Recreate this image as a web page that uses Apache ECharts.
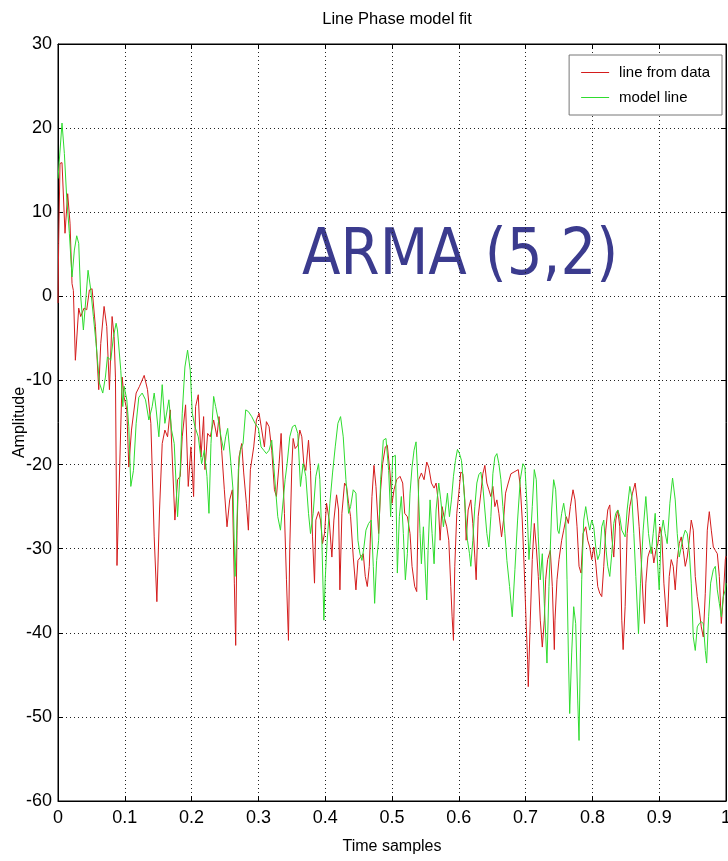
<!DOCTYPE html>
<html>
<head>
<meta charset="utf-8">
<title>Line Phase model fit</title>
<script src="https://cdn.jsdelivr.net/npm/echarts@6/dist/echarts.min.js"></script>
<style>
  html, body { margin: 0; padding: 0; background: #fff; }
  #chart { width: 728px; height: 861px; }
</style>
</head>
<body>
<div id="chart"></div>
<script>
// Axis ranges and ticks
const xTicks = { min: 0, max: 1, interval: 0.1 };
const yTicks = { min: -60, max: 30, interval: 10 };

const chartTitle = 'Line Phase model fit';
const xName = 'Time samples';
const yName = 'Amplitude';
const seriesNames = ['line from data', 'model line'];
const annotation = 'ARMA (5,2)';

// Measured line phase: [time, amplitude]
const dataLine = [
  [0,-0.8],[0.001,6.3],[0.003,15.8],[0.006,15.9],[0.0105,7.5],[0.0145,12.2],[0.018,8.7],[0.021,1.5],[0.023,0.7],[0.026,-7.6],
  [0.031,-1.4],[0.034,-2.4],[0.039,-1.4],[0.043,-1.6],[0.047,0.75],[0.051,0.9],[0.056,-3.6],[0.061,-11.1],[0.064,-5.6],[0.069,-1.2],
  [0.073,-3.6],[0.077,-11.1],[0.081,-2.4],[0.084,-4.8],[0.086,-9.6],[0.0883,-32],[0.096,-9.6],[0.099,-12],[0.103,-13.5],[0.106,-20.3],
  [0.110,-15.9],[0.117,-11.5],[0.122,-10.7],[0.129,-9.4],[0.134,-11.1],[0.139,-15.1],[0.144,-28.6],[0.148,-36.3],[0.152,-25.4],[0.156,-17.5],
  [0.160,-15.9],[0.164,-16.7],[0.168,-13.5],[0.171,-19.1],[0.175,-26.6],[0.179,-21.8],[0.183,-21.4],[0.186,-16.7],[0.191,-12.9],[0.195,-22.6],
  [0.199,-17.9],[0.203,-23.8],[0.206,-13.1],[0.210,-11.7],[0.214,-19.1],[0.218,-14.3],[0.220,-20.6],[0.224,-16.3],[0.228,-16.7],[0.233,-14.7],
  [0.238,-16.7],[0.241,-14.3],[0.245,-18.3],[0.249,-23],[0.253,-27.4],[0.257,-24.2],[0.261,-23],[0.264,-34.1],[0.266,-41.5],[0.268,-27.8],
  [0.271,-19.1],[0.275,-17.5],[0.278,-21],[0.282,-24.6],[0.285,-27.8],[0.288,-20.6],[0.293,-17.9],[0.297,-14.7],[0.301,-13.9],[0.305,-15.9],
  [0.309,-17.9],[0.312,-14.9],[0.316,-15.5],[0.320,-18.3],[0.324,-23],[0.327,-23.8],[0.331,-19.9],[0.334,-16.3],
  [0.339,-25.8],[0.342,-33.7],[0.345,-40.9],[0.347,-29.8],[0.350,-20.3],[0.352,-16.9],[0.355,-18.1],[0.359,-17.7],[0.362,-15.9],[0.365,-16.7],
  [0.368,-19.9],[0.371,-20.7],[0.375,-17.1],[0.378,-20.7],[0.381,-28.6],[0.384,-34.1],[0.386,-26.6],[0.390,-25.6],[0.393,-26.6],[0.396,-29.4],
  [0.399,-28.2],[0.402,-24.6],[0.406,-26.6],[0.410,-31],[0.413,-26.6],[0.417,-23.6],[0.420,-25.4],[0.422,-34.9],[0.425,-25.8],[0.429,-22.2],
  [0.432,-22.6],[0.435,-24.6],[0.438,-26.2],[0.442,-31],[0.446,-34.9],[0.449,-31.4],[0.453,-31],[0.457,-30.6],[0.460,-33.3],[0.463,-34.5],
  [0.466,-32.1],[0.470,-23.8],[0.473,-20.1],[0.476,-22.6],[0.480,-28.2],[0.483,-23],[0.486,-19.9],[0.490,-17.9],[0.493,-17.7],[0.497,-21],
  [0.500,-24.6],[0.503,-23],[0.507,-21.8],
  [0.512,-21.4],[0.516,-22.2],[0.519,-25.8],[0.523,-26.2],[0.527,-28.2],[0.530,-32.1],[0.534,-34.5],[0.537,-35.1],[0.540,-21.8],[0.544,-21],
  [0.548,-21.8],[0.552,-19.7],[0.555,-20.3],[0.559,-22.2],[0.563,-22.8],[0.566,-22.2],[0.569,-24.2],[0.572,-29],[0.575,-25],[0.578,-26.2],
  [0.582,-27.4],[0.585,-29],[0.588,-34.5],[0.590,-38.1],[0.592,-40.9],[0.594,-32.1],[0.597,-25.8],[0.600,-23.4],[0.603,-20.9],[0.606,-21.1],
  [0.609,-24.2],[0.611,-29],[0.614,-25.4],[0.618,-24.2],[0.621,-27],[0.624,-31],[0.626,-33.7],[0.629,-26.2],[0.633,-23.4],[0.636,-21.1],
  [0.639,-20.1],[0.642,-22.2],[0.645,-23],[0.648,-23.8],[0.651,-22.6],[0.654,-25],[0.657,-24.2],[0.660,-25.8],[0.664,-28.6],[0.667,-26.6],
  [0.670,-23.4],[0.674,-22.2],[0.678,-21.1],
  [0.689,-20.6],[0.692,-22.6],[0.695,-26.6],[0.698,-32.5],[0.701,-39.3],[0.703,-43.2],[0.704,-46.4],[0.707,-38.5],[0.710,-31.3],[0.713,-27],
  [0.716,-29.8],[0.719,-33.3],[0.722,-38.5],[0.725,-41.7],[0.728,-38.5],[0.730,-33.7],[0.733,-31.3],[0.737,-30.2],[0.740,-34.5],[0.743,-42],
  [0.744,-38.5],[0.747,-33.7],[0.750,-31.3],[0.754,-29],[0.757,-27.8],[0.761,-26.2],[0.764,-27],[0.767,-25],[0.771,-23],[0.774,-24.2],
  [0.777,-27.4],[0.780,-32.1],[0.783,-32.9],[0.786,-28.2],[0.790,-27.4],[0.793,-29],[0.796,-29.8],[0.799,-31.3],[0.802,-29.8],[0.805,-31.7],
  [0.808,-34.5],[0.811,-35.3],[0.814,-35.7],[0.817,-32.1],[0.820,-27.8],[0.823,-25.4],[0.826,-24.8],[0.829,-28.6],[0.832,-31],[0.835,-26.6],
  [0.838,-25.4],[0.841,-27.4],[0.844,-38.5],[0.846,-42],[0.849,-36.9],
  [0.852,-28.2],[0.856,-25],[0.860,-23.4],[0.864,-22.2],[0.867,-24.2],[0.870,-27.4],[0.873,-31.3],[0.876,-36.1],[0.878,-38.9],[0.880,-34.1],
  [0.883,-31],[0.886,-30.2],[0.889,-29.8],[0.892,-31.7],[0.895,-30.2],[0.898,-29.4],[0.901,-27.4],[0.904,-28.6],[0.907,-34.1],[0.910,-37.3],
  [0.912,-39.3],[0.915,-33.3],[0.918,-31.3],[0.921,-32.1],[0.924,-34.9],[0.927,-31.3],[0.930,-29.4],[0.933,-28.6],[0.936,-30.2],[0.939,-32.1],
  [0.942,-31],[0.945,-29],[0.948,-26.6],[0.951,-27.8],[0.954,-33.3],[0.957,-35.7],[0.960,-37.3],[0.963,-39.3],[0.966,-40.5],[0.969,-35.3],
  [0.972,-27.8],[0.975,-25.6],[0.978,-27.8],[0.981,-29.8],[0.984,-30.2],[0.987,-30.6],[0.990,-33.3],[0.993,-38.9],[0.996,-35.7],[0.999,-31.3],
  [1.0,-30.9]
];

// ARMA(5,2) model output: [time, amplitude]
const modelLine = [
  [0,14],[0.006,20.6],[0.0095,17],[0.013,11.8],[0.017,7.5],[0.021,2.3],[0.0245,5.5],[0.028,7.2],[0.031,6.3],[0.034,0],
  [0.038,-4],[0.042,0],[0.045,3.1],[0.049,0.8],[0.053,-2.4],[0.057,-5.6],[0.062,-10.3],[0.067,-11.5],[0.071,-9.6],[0.074,-7.2],
  [0.079,-7.6],[0.083,-4.8],[0.087,-3.2],[0.089,-4],[0.094,-8.8],[0.097,-13.1],[0.099,-10.7],[0.103,-12.3],[0.106,-15.5],[0.109,-22.6],
  [0.113,-20.7],[0.117,-15.1],[0.121,-12],[0.126,-11.5],[0.131,-12.3],[0.136,-14.7],[0.141,-13.1],[0.144,-11.5],[0.147,-13.5],[0.151,-16.7],
  [0.156,-10.5],
  [0.160,-15.1],[0.166,-12.3],[0.170,-15.9],[0.174,-17.5],[0.179,-26.2],[0.183,-20.6],[0.186,-13.9],[0.190,-8.4],[0.194,-6.4],[0.198,-8.8],
  [0.201,-13.9],[0.205,-15.5],[0.210,-16.7],[0.215,-19.9],[0.219,-18.3],[0.223,-21.4],[0.226,-25.8],[0.229,-17.5],[0.233,-11.9],[0.236,-13.1],
  [0.240,-14.7],[0.244,-16.7],[0.248,-18.3],[0.251,-16.7],[0.254,-15.7],[0.258,-19.1],[0.262,-23],[0.265,-33.3],[0.267,-29.4],[0.270,-20.6],
  [0.273,-18.3],[0.277,-17.5],[0.281,-13.5],[0.285,-13.7],[0.290,-14.3],[0.295,-15.1],[0.300,-15.7],[0.304,-17.9],[0.308,-18.3],[0.312,-18.7],
  [0.316,-18.3],[0.320,-17.1],[0.325,-22.2],[0.329,-26.2],[0.333,-27.8],
  [0.340,-21.8],[0.343,-19.9],[0.347,-16.7],[0.351,-15.5],[0.355,-15.3],[0.359,-16.3],[0.363,-22.6],[0.367,-19.9],[0.371,-21.4],[0.375,-25.8],
  [0.378,-28.2],[0.382,-25.8],[0.386,-21.4],[0.390,-19.9],[0.392,-21.8],[0.395,-29],[0.398,-38.5],[0.400,-33.7],[0.403,-29],[0.407,-24.6],
  [0.411,-21],[0.415,-17.9],[0.419,-15.1],[0.423,-14.3],[0.427,-16.7],[0.431,-21.8],[0.435,-25.8],[0.438,-25],[0.442,-23],[0.446,-23.4],
  [0.449,-29],[0.452,-30.6],[0.455,-31.4],[0.458,-29.8],[0.461,-27.8],[0.465,-27],[0.469,-26.6],[0.472,-32.1],[0.474,-36.5],[0.477,-31.4],
  [0.480,-29],[0.483,-21.8],[0.487,-17.1],[0.491,-16.9],[0.495,-20.7],[0.498,-26.2],[0.501,-19.1],[0.505,-18.9],
  [0.508,-32.9],[0.511,-26.2],[0.514,-23.8],[0.517,-28.2],[0.520,-33.7],[0.523,-30.6],[0.527,-23.4],[0.530,-20.3],[0.533,-18.3],[0.536,-17.3],
  [0.539,-22.2],[0.542,-28.2],[0.544,-31.8],[0.547,-27.4],[0.550,-32.9],[0.552,-36.1],[0.554,-30.2],[0.557,-24.2],[0.560,-28.2],[0.563,-31.8],
  [0.566,-25.4],[0.570,-22.2],[0.573,-24.2],[0.577,-27.4],[0.580,-25.4],[0.583,-23.4],[0.586,-26.2],[0.589,-24.2],[0.592,-21.4],[0.595,-19.5],
  [0.598,-18.2],[0.601,-18.7],[0.604,-19.5],[0.607,-22.2],[0.610,-25.8],[0.613,-29],[0.616,-30.6],[0.618,-32.1],[0.621,-29],[0.624,-25],
  [0.627,-22.2],[0.630,-21.2],[0.633,-20.9],[0.636,-22.6],[0.639,-25.4],[0.642,-28.2],[0.645,-29.8],[0.648,-26.2],[0.651,-21.1],[0.654,-19.1],
  [0.657,-18.7],[0.660,-19.9],[0.663,-21.8],[0.666,-25],[0.669,-28.2],[0.672,-31.4],[0.676,-34.5],[0.680,-38.1],
  [0.684,-32.5],[0.688,-26.6],[0.692,-21.8],[0.696,-19.9],[0.699,-20.3],[0.702,-24.6],[0.705,-31.3],[0.708,-27.8],[0.710,-25],[0.713,-20.6],
  [0.716,-21.8],[0.719,-28.6],[0.722,-33.7],[0.725,-30.6],[0.728,-36.5],[0.730,-40.1],[0.732,-43.6],[0.735,-34.5],[0.739,-25.4],[0.742,-21.8],
  [0.745,-23],[0.748,-27.8],[0.750,-28.2],[0.754,-25.8],[0.757,-24.6],[0.760,-26.2],[0.762,-33.7],[0.764,-42.4],[0.766,-49.6],[0.769,-42.4],
  [0.772,-36.9],[0.775,-38.9],[0.778,-48],[0.780,-52.8],[0.782,-42.4],[0.784,-33.7],[0.787,-26.6],[0.790,-25],[0.793,-26.6],[0.796,-27.8],
  [0.799,-26.6],[0.802,-27.4],[0.805,-29.8],[0.808,-31.3],[0.811,-30.6],[0.814,-27.4],[0.817,-26.6],[0.820,-29.8],[0.823,-32.1],[0.826,-33.3],
  [0.829,-30.6],[0.832,-27],[0.835,-25.8],[0.838,-25.4],[0.841,-26.2],[0.844,-27.8],[0.849,-28.6],
  [0.852,-25.4],[0.856,-22.6],[0.859,-23.8],[0.862,-28.2],[0.865,-33.3],[0.869,-40.1],[0.872,-34.1],[0.876,-27.8],[0.880,-23.8],[0.884,-28.2],
  [0.888,-30.6],[0.891,-28.2],[0.894,-25.8],[0.897,-31],[0.900,-34.9],[0.903,-28.2],[0.906,-26.6],[0.909,-28.2],[0.912,-29.4],[0.916,-24.6],
  [0.920,-21.6],[0.924,-24.2],[0.927,-28.2],[0.930,-31],[0.933,-29.8],[0.936,-28.6],[0.939,-27.8],[0.942,-28.2],[0.945,-30.2],[0.948,-34.1],
  [0.951,-40.5],[0.954,-42.1],[0.957,-39.3],[0.960,-38.9],[0.963,-38.7],[0.966,-38.9],[0.969,-42.1],[0.971,-43.6],[0.974,-38.1],[0.977,-34.1],
  [0.981,-32.5],[0.984,-32.1],[0.987,-34.9],[0.990,-36.5],[0.993,-38.1],[0.996,-35.7],[0.999,-34.9],[1.0,-34.1]
];

const FONT = "'Liberation Sans', Arial, sans-serif";
const dotted = { color: '#222', width: 1, type: [1, 3] };

const chart = echarts.init(document.getElementById('chart'), null, { renderer: 'canvas' });

function axisCommon(extra) {
  return Object.assign({
    type: 'value',
    axisLine: { show: true, onZero: false, lineStyle: { color: '#000', width: 1 } },
    axisTick: { show: true, inside: true, length: 5, lineStyle: { color: '#000' } },
    minorTick: { show: false }
  }, extra);
}

chart.setOption({
  animation: false,
  backgroundColor: '#fff',
  textStyle: { fontFamily: FONT },
  title: {
    text: chartTitle,
    left: 392, top: 6, textAlign: 'center',
    textStyle: { fontFamily: FONT, fontSize: 16.5, fontWeight: 'normal', color: '#000' }
  },
  grid: {
    left: 58, right: 2, top: 44, bottom: 60,
    outerBoundsMode: 'none', containLabel: false,
    show: true, borderColor: '#000', borderWidth: 1, backgroundColor: '#fff'
  },
  legend: {
    orient: 'vertical',
    right: 6, top: 55,
    padding: [9, 12, 9, 12],
    itemGap: 8,
    itemWidth: 28, itemHeight: 1,
    icon: 'rect',
    backgroundColor: '#fff',
    borderColor: '#777', borderWidth: 1,
    textStyle: { fontFamily: FONT, fontSize: 15, color: '#000', lineHeight: 17, padding: [0, 0, 0, 5] },
    data: seriesNames
  },
  xAxis: [
    axisCommon({
      min: xTicks.min, max: xTicks.max, interval: xTicks.interval,
      position: 'bottom',
      name: xName, nameLocation: 'middle', nameGap: 38, nameMoveOverlap: false,
      nameTextStyle: { fontFamily: FONT, fontSize: 16, color: '#000' },
      axisLabel: { show: true, margin: 8, color: '#000', fontFamily: FONT, fontSize: 18, showMaxLabel: true, showMinLabel: true },
      splitLine: { show: true, lineStyle: dotted }
    }),
    axisCommon({
      min: xTicks.min, max: xTicks.max, interval: xTicks.interval,
      position: 'top',
      axisLabel: { show: false },
      splitLine: { show: false }
    })
  ],
  yAxis: [
    axisCommon({
      min: yTicks.min, max: yTicks.max, interval: yTicks.interval,
      position: 'left',
      name: yName, nameLocation: 'middle', nameGap: 30, nameRotate: 90, nameMoveOverlap: false,
      nameTextStyle: { fontFamily: FONT, fontSize: 16, color: '#000' },
      axisLabel: { show: true, margin: 6, color: '#000', fontFamily: FONT, fontSize: 18 },
      splitLine: { show: true, lineStyle: dotted }
    }),
    axisCommon({
      min: yTicks.min, max: yTicks.max, interval: yTicks.interval,
      position: 'right',
      axisLabel: { show: false },
      splitLine: { show: false }
    })
  ],
  series: [
    {
      name: seriesNames[0], type: 'line', data: dataLine,
      xAxisIndex: 0, yAxisIndex: 0,
      showSymbol: false, symbol: 'none',
      lineStyle: { color: '#d41c1c', width: 1 },
      itemStyle: { color: '#d41c1c' }
    },
    {
      name: seriesNames[1], type: 'line', data: modelLine,
      xAxisIndex: 0, yAxisIndex: 0,
      showSymbol: false, symbol: 'none',
      lineStyle: { color: '#2fdc2f', width: 1 },
      itemStyle: { color: '#2fdc2f' }
    }
  ],
  graphic: [
    {
      type: 'text',
      left: 302, top: 225,
      scaleX: 0.88,
      style: {
        text: annotation,
        fontFamily: "'DejaVu Sans', sans-serif",
        fontSize: 64,
        fill: '#3b3b8e'
      }
    }
  ]
});
</script>
</body>
</html>
